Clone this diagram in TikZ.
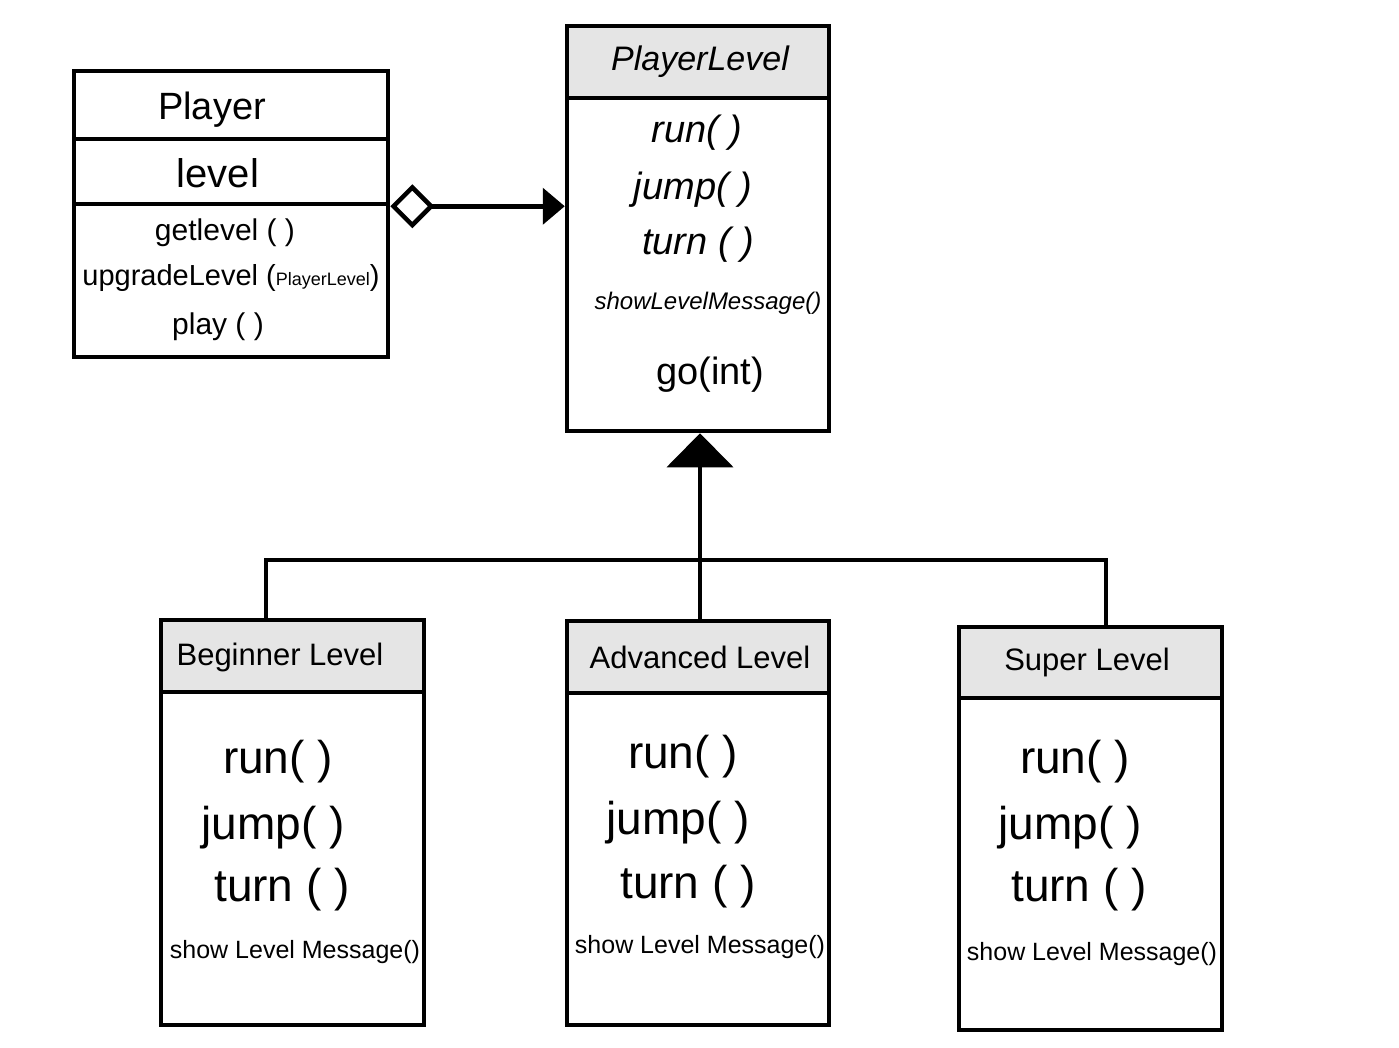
\documentclass[tikz,border=0pt]{standalone}
\usepackage{fontspec}
\setmainfont{Liberation Sans}
\usetikzlibrary{arrows.meta}

\begin{document}
\begin{tikzpicture}[x=1pt,y=-1pt,line width=4.5pt,
    part/.style={draw,line width=4.5pt,inner sep=0pt},
    headpart/.style={part,fill=black!10},
    txt/.style={inner sep=0pt},
    fsize/.style={font=\fontsize{#1}{#1}\selectfont},
    isize/.style={font=\fontsize{#1}{#1}\selectfont\itshape}]
    \useasboundingbox (0,0) rectangle (1399,1047);

    % Player
    \node[part,minimum width=314pt,minimum height=68pt] (plyname) at (231,105) {};
    \node[part,minimum width=314pt,minimum height=65pt] (plyattr) at (231,171.5) {};
    \node[part,minimum width=314pt,minimum height=153pt] (plyops) at (231,280.5) {};
    \node[txt,fsize=38] (plytitle) at (212,110) {Player};
    \node[txt,fsize=40] (plylevel) at (218,173) {level};
    \node[txt,fsize=30] (plyget) at (225,233) {getlevel ( )};
    \node[txt,fsize=29] (plyup) at (231,278)
        {upgradeLevel ({\fontsize{18}{18}\selectfont PlayerLevel})};
    \node[txt,fsize=30] (plyplay) at (218,327) {play ( )};

    % PlayerLevel
    \node[headpart,minimum width=262pt,minimum height=72pt] (plvlhead) at (698,62) {};
    \node[part,minimum width=262pt,minimum height=333pt] (plvlbody) at (698,264.5) {};
    \node[txt,isize=34] (plvltitle) at (700,62) {PlayerLevel};
    \node[txt,isize=38] (plvlrun) at (697,133) {run( )};
    \node[txt,isize=38] (plvljump) at (693,190) {jump( )};
    \node[txt,isize=38] (plvlturn) at (698,245) {turn ( )};
    \node[txt,isize=24] (plvlshow) at (708,303) {showLevelMessage()};
    \node[txt,fsize=38] (plvlgo) at (710,375) {go(int)};

    % BeginnerLevel
    \node[headpart,minimum width=263pt,minimum height=72pt] (beghead) at (292.5,656) {};
    \node[part,minimum width=263pt,minimum height=333pt] (begbody) at (292.5,858.5) {};
    \node[txt,fsize=31] (begtitle) at (280,657) {Beginner Level};
    \node[txt,fsize=46] (begrun) at (278,762) {run( )};
    \node[txt,fsize=46] (begjump) at (273,828) {jump( )};
    \node[txt,fsize=46] (begturn) at (282,890) {turn ( )};
    \node[txt,fsize=25] (begshow) at (295,952) {show Level Message()};

    % AdvancedLevel
    \node[headpart,minimum width=262pt,minimum height=72pt] (advhead) at (698,657) {};
    \node[part,minimum width=262pt,minimum height=332pt] (advbody) at (698,859) {};
    \node[txt,fsize=31] (advtitle) at (700,657) {Advanced Level};
    \node[txt,fsize=46] (advrun) at (683,757) {run( )};
    \node[txt,fsize=46] (advjump) at (678,823) {jump( )};
    \node[txt,fsize=46] (advturn) at (688,887) {turn ( )};
    \node[txt,fsize=25] (advshow) at (700,947) {show Level Message()};

    % SuperLevel
    \node[headpart,minimum width=263pt,minimum height=71pt] (suphead) at (1090.5,662.5) {};
    \node[part,minimum width=263pt,minimum height=332pt] (supbody) at (1090.5,864) {};
    \node[txt,fsize=31] (suptitle) at (1087,662) {Super Level};
    \node[txt,fsize=46] (suprun) at (1075,762) {run( )};
    \node[txt,fsize=46] (supjump) at (1070,828) {jump( )};
    \node[txt,fsize=46] (supturn) at (1079,890) {turn ( )};
    \node[txt,fsize=25] (supshow) at (1092,954) {show Level Message()};

    % aggregation
    \draw[{Diamond[open,fill=white,length=44pt,width=44pt]}-{Triangle[length=22pt,width=36pt]}]
        (plyattr.south east) -- (plyattr.south east -| plvlbody.west);

    % inheritance
    \coordinate (bar) at (700,560);
    \draw[-{Triangle[length=34pt,width=66pt]}] ([xshift=2pt]advhead.north) -- ([xshift=2pt]plvlbody.south);
    \draw ([xshift=-26.5pt]beghead.north) |- (bar) -| ([xshift=15.5pt]suphead.north);
\end{tikzpicture}
\end{document}
